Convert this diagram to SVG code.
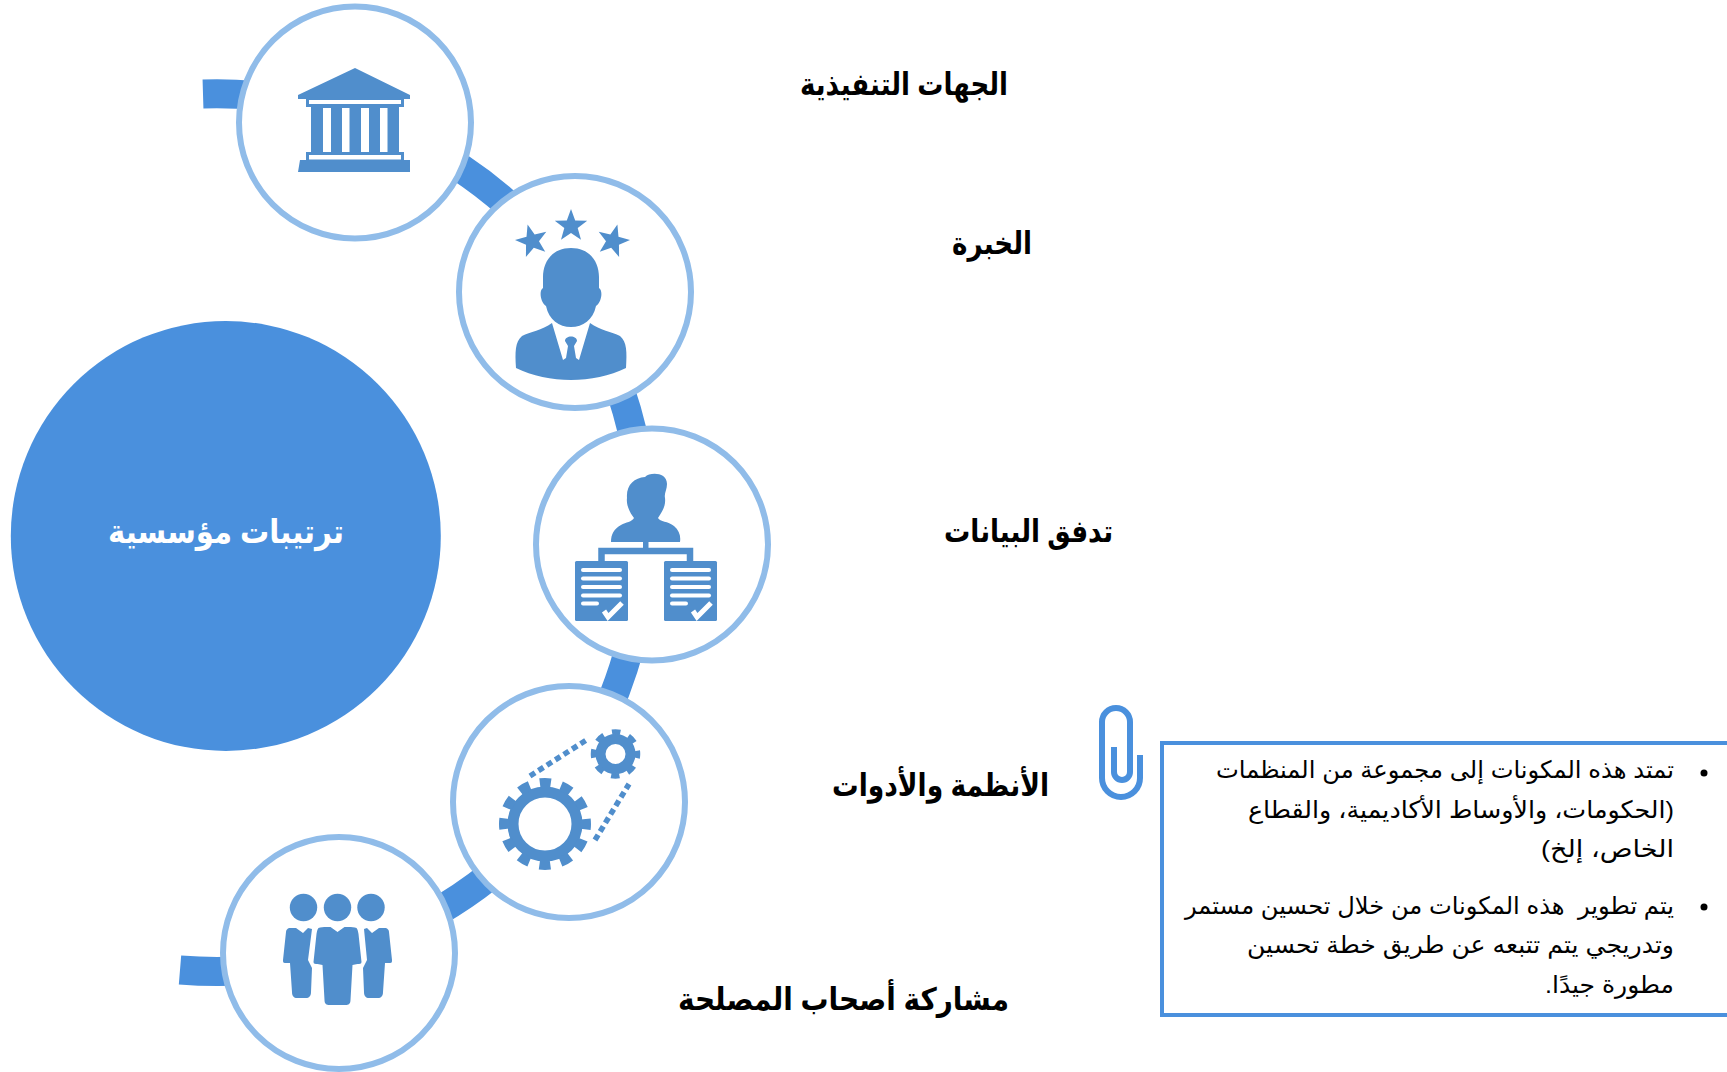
<svg xmlns="http://www.w3.org/2000/svg" width="1727" height="1072" viewBox="0 0 1727 1072">
<style>
.ring{fill:#fff;stroke:#90BCE9;stroke-width:6}
.ic{fill:#508ECC}
.w{fill:#fff}
.t{font-family:"Liberation Sans","DejaVu Sans",sans-serif;direction:rtl;text-anchor:start}
.lab{font-size:31px;font-weight:bold;fill:#000}
.body{font-size:24px;fill:#000}
</style>
<defs>
<polygon id="star" points="0,-17 4.2,-5.5 16.2,-5.3 6.7,2 10,13.8 0,7 -10,13.8 -6.7,2 -16.2,-5.3 -4.2,-5.5"/>
<g id="doc"><rect width="53" height="60" rx="1.5" class="ic"/><g class="w"><rect x="6" y="7" width="41" height="4" rx="2"/><rect x="6" y="15.500" width="41" height="4" rx="2"/><rect x="6" y="24" width="41" height="4" rx="2"/><rect x="6" y="32.500" width="41" height="4" rx="2"/><rect x="6" y="40.500" width="18" height="4" rx="2"/></g><path d="M29,50 L33,56 L47,42" fill="none" stroke="#fff" stroke-width="5"/></g>
<path id="man" d="M-19,0 C-17,-1 -14,-1 -11,-1 L-7,-1 L0,4 L7,-1 L11,-1 C14,-1 17,-1 19,0 C20,1 20.500,3 21,6 L24,34 C24,36 22,36 20,36 L15,37 L13,72 C13,76 11,77 8,77 L-8,77 C-11,77 -13,76 -13,72 L-15,37 L-20,36 C-22,36 -24,36 -24,34 L-21,6 C-20.500,3 -20,1 -19,0 Z"/>
</defs>
<g id="connectors"><path d="M203,94 A438.800,438.800 0 0 1 580.600,288.200 M575,297 A439,439 0 0 1 569,780 M564.800,798.800 A438.800,438.800 0 0 1 180,970" fill="none" stroke="#4A90DD" stroke-width="29"/></g>
<g id="center"><circle cx="225.800" cy="536" r="215" fill="#4A90DD"/><text class="t" x="344" y="543" font-size="33" font-weight="bold" fill="#fff" textLength="236" lengthAdjust="spacingAndGlyphs">ترتيبات مؤسسية</text></g>
<g id="node1"><circle class="ring" cx="355" cy="122.500" r="116"/>
<g class="ic"><path d="M355,68 L410,95 L410,99 L404,99 L404,107 L399,107 L399,152 L404,152 L404,160 L410,160 L410,172 L298,172 L300,160 L306,160 L306,152 L311,152 L311,107 L306,107 L306,99 L298,99 L298,95 Z"/></g>
<g class="w"><rect x="309" y="100" width="92" height="4"/><rect x="323" y="108" width="8" height="44"/><rect x="342" y="108" width="7.500" height="44"/><rect x="361" y="108" width="8" height="44"/><rect x="380" y="108" width="7.500" height="44"/><rect x="309" y="155" width="92" height="4.500"/></g></g>
<g id="node2"><circle class="ring" cx="575" cy="292" r="116"/>
<g class="ic"><use href="#star" x="571" y="226"/><use href="#star" transform="translate(532,241) rotate(-15)"/><use href="#star" transform="translate(613,241) rotate(15)"/>
<path d="M571,248 C590,248 599,262 599,277 L599,288 C603,290 602,302 596,306 C593,320 583,327 571,327 C559,327 549,320 546,306 C540,302 539,290 543,288 L543,277 C543,262 552,248 571,248 Z"/>
<path d="M552,323 L563,360 L566,358 L568,346 L565,341 C565,335 577,335 577,341 L574,346 L576,358 L579,360 L590,323 C600,330 612,332 620,336 C627,342 627,352 626,368 C610,376 590,380 571,380 C552,380 532,376 516,368 C515,352 515,342 522,336 C530,332 542,330 552,323 Z"/></g></g>
<g id="node3"><circle class="ring" cx="652" cy="544.500" r="116"/>
<g class="ic"><path d="M627,498 C626,485 634,478 645,477 C650,472 667,472 667,484 C667,490 664,493 665,498 C666,506 662,512 658,518 C660,522 668,521 674,526 C679,530 681,536 680,542 L611,542 C611,534 614,529 621,525 C626,522 632,522 634,518 C630,513 626,505 627,498 Z"/><rect x="643" y="542" width="5.500" height="8"/></g>
<path d="M601.500,561 V551 H690 V561" fill="none" stroke="#508ECC" stroke-width="6.500"/>
<use href="#doc" x="575" y="561"/><use href="#doc" x="664" y="561"/></g>
<g id="node4"><circle class="ring" cx="569" cy="802" r="116"/>
<circle cx="545" cy="824" r="32" fill="none" stroke="#508ECC" stroke-width="11"/>
<circle cx="545" cy="824" r="41" fill="none" stroke="#508ECC" stroke-width="10" stroke-dasharray="11 10.470" stroke-dashoffset="5.500"/>
<circle cx="615.500" cy="754" r="15" fill="none" stroke="#508ECC" stroke-width="10"/>
<circle cx="615.500" cy="754" r="22" fill="none" stroke="#508ECC" stroke-width="5.500" stroke-dasharray="8.500 8.780" stroke-dashoffset="4.250"/>
<path d="M530,776 L588,739 M595,840 L629,784" fill="none" stroke="#508ECC" stroke-width="5.500" stroke-dasharray="6 4"/></g>
<g id="node5"><circle class="ring" cx="339" cy="953" r="116"/>
<g class="ic"><circle cx="303.500" cy="907.500" r="13.700"/><circle cx="337.500" cy="907.500" r="13.700"/><circle cx="371" cy="907.500" r="13.700"/>
<path d="M289,928 L296,928 L303,933 L308,928 L312,929 L308,960 L312,968 L311,992 C311,996 309,998 306,998 L297,998 C294,998 292,996 292,992 L290,963 L285,963 C283,963 283,962 283,960 L286,932 C286,930 287,929 289,928 Z"/>
<path d="M364,929 L367,928 L372,933 L379,928 L386,928 C388,929 389,930 389,932 L392,960 C392,962 392,963 390,963 L385,963 L383,992 C383,996 381,998 378,998 L369,998 C366,998 364,996 364,992 L363,968 L367,960 Z"/>
<use href="#man" x="337.500" y="928"/></g></g>
<g id="label1"><text class="t lab" x="1008" y="95" textLength="208" lengthAdjust="spacingAndGlyphs">الجهات التنفيذية</text></g>
<g id="label2"><text class="t lab" x="1032" y="254" textLength="80" lengthAdjust="spacingAndGlyphs">الخبرة</text></g>
<g id="label3"><text class="t lab" x="1113" y="542" textLength="169" lengthAdjust="spacingAndGlyphs">تدفق البيانات</text></g>
<g id="label4"><text class="t lab" x="1049" y="796" textLength="217" lengthAdjust="spacingAndGlyphs">الأنظمة والأدوات</text></g>
<g id="label5"><text class="t lab" x="1009" y="1010" textLength="331" lengthAdjust="spacingAndGlyphs">مشاركة أصحاب المصلحة</text></g>
<g id="clip"><path d="M1114,747 V772 A8,8 0 0 0 1130,772 V722 A14,14 0 0 0 1102,722 V778 A19,19 0 0 0 1140,778 V755" fill="none" stroke="#4A90DD" stroke-width="6"/></g>
<g id="note"><rect x="1162" y="743" width="580" height="272" fill="#fff" stroke="#4A90DD" stroke-width="4"/>
<circle cx="1704" cy="773" r="3.500"/><circle cx="1704" cy="907" r="3.500"/>
<text class="t body" x="1674" y="778" textLength="458" lengthAdjust="spacingAndGlyphs">تمتد هذه المكونات إلى مجموعة من المنظمات</text>
<text class="t body" x="1674" y="818" textLength="426" lengthAdjust="spacingAndGlyphs">(الحكومات، والأوساط الأكاديمية، والقطاع</text>
<text class="t body" x="1674" y="857" textLength="133" lengthAdjust="spacingAndGlyphs">الخاص، إلخ)</text>
<text class="t body" x="1674" y="914" textLength="489" lengthAdjust="spacingAndGlyphs" xml:space="preserve">يتم تطوير  هذه المكونات من خلال تحسين مستمر</text>
<text class="t body" x="1674" y="953" textLength="427" lengthAdjust="spacingAndGlyphs">وتدريجي يتم تتبعه عن طريق خطة تحسين</text>
<text class="t body" x="1674" y="993" textLength="129" lengthAdjust="spacingAndGlyphs">مطورة جيدًا.</text></g>
</svg>
